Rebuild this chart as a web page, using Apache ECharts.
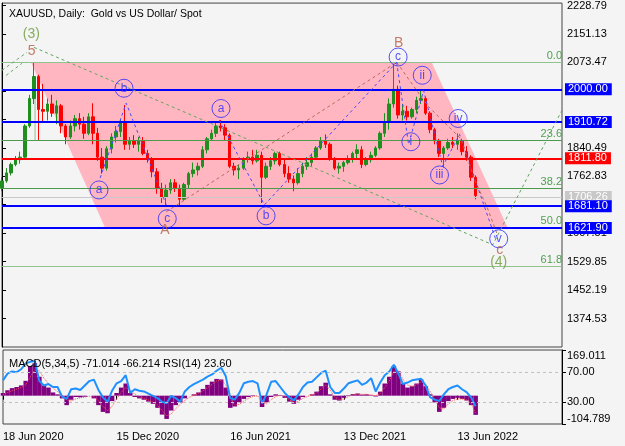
<!DOCTYPE html>
<html><head><meta charset="utf-8">
<script src="https://cdn.jsdelivr.net/npm/echarts@6/dist/echarts.min.js"></script>
<style>html,body{margin:0;padding:0;background:#f4f4f4}#c{width:625px;height:446px}</style>
</head><body><div id="c"></div>
<script>
// ---- data (weekly samples) : [open, high, low, close]
const ohlc = [
[1730,1760,1722,1750],[1750,1785,1745,1772],[1772,1800,1765,1795],[1795,1818,1790,1808],[1808,1830,1797,1815],
[1815,1905,1812,1900],[1900,1985,1895,1975],[1975,2073,1960,2035],[2035,2040,1862,1945],[1945,2015,1910,1940],
[1940,1975,1915,1960],[1960,1985,1925,1935],[1935,1970,1905,1955],[1955,1960,1880,1900],[1900,1905,1850,1870],
[1870,1915,1865,1900],[1900,1930,1885,1920],[1920,1935,1890,1905],[1905,1925,1865,1880],[1880,1935,1875,1925],
[1925,1962,1850,1880],[1880,1895,1805,1815],[1815,1840,1770,1785],[1785,1845,1778,1838],[1838,1880,1825,1870],
[1870,1900,1855,1885],[1885,1920,1870,1912],[1912,1957,1835,1850],[1850,1870,1835,1860],[1860,1875,1840,1850],
[1850,1870,1830,1860],[1860,1870,1820,1825],[1825,1835,1800,1810],[1810,1815,1760,1775],[1775,1785,1715,1730],
[1730,1745,1690,1705],[1705,1740,1680,1725],[1725,1755,1715,1745],[1745,1755,1720,1730],[1730,1740,1682,1700],
[1700,1745,1695,1740],[1740,1775,1730,1770],[1770,1800,1760,1780],[1780,1800,1765,1790],[1790,1845,1785,1835],
[1835,1870,1825,1865],[1865,1890,1860,1880],[1880,1912,1870,1900],[1900,1916,1885,1895],[1895,1905,1860,1875],
[1875,1880,1785,1790],[1790,1800,1765,1780],[1780,1795,1755,1785],[1785,1815,1780,1810],[1810,1830,1800,1815],
[1815,1835,1795,1805],[1805,1835,1800,1820],[1820,1830,1690,1760],[1760,1800,1755,1790],[1790,1815,1780,1805],
[1805,1830,1795,1825],[1825,1830,1790,1795],[1795,1810,1760,1770],[1770,1790,1745,1755],[1755,1765,1722,1745],
[1745,1785,1740,1770],[1770,1800,1760,1790],[1790,1815,1780,1800],[1800,1825,1790,1815],[1815,1845,1810,1840],
[1840,1870,1835,1860],[1860,1877,1840,1850],[1850,1855,1805,1810],[1810,1815,1780,1785],[1785,1800,1770,1790],
[1790,1805,1775,1800],[1800,1820,1795,1810],[1810,1830,1800,1825],[1825,1850,1810,1835],[1835,1845,1785,1795],
[1795,1815,1790,1808],[1808,1830,1800,1820],[1820,1845,1815,1840],[1840,1885,1835,1880],[1880,1935,1870,1910],
[1910,1975,1890,1960],[1960,2070,1950,2000],[2000,2010,1920,1930],[1930,1960,1915,1940],[1940,1955,1915,1925],
[1925,1950,1920,1945],[1945,1980,1935,1970],[1970,1998,1960,1975],[1975,1980,1930,1935],[1935,1940,1880,1890],
[1890,1895,1850,1860],[1860,1865,1815,1825],[1825,1845,1787,1840],[1840,1865,1835,1855],[1855,1870,1840,1850],
[1850,1880,1835,1860],[1860,1865,1820,1830],[1830,1845,1805,1815],[1815,1820,1750,1760],[1760,1765,1700,1710]
];
const macdHist = [10,20,28,32,38,55,110,120,70,38, 30,12,5,-10,-35,-15,-5,-6,-4,0, -10,-35,-60,-65,-20,10,30,45,10,-5,
 -10,-15,-22,-30,-45,-70,-86,-55,-35,-25, -10,0,5,12,25,40,52,62,60,30, -45,-40,-25,-12,-5,2,0,-42,-25,-5,
 5,2,-8,-22,-30,-15,-5,0,5,15, 35,48,5,-15,-18,-8,2,6,8,4, 5,2,-3,15,45,70,110,90,45,30,
 35,45,60,35,5,-25,-60,-45,-20,-12, -8,-12,-18,-35,-71];
const macdSignal = [5,12,18,24,30,40,70,95,92,65, 45,28,15,3,-15,-20,-12,-8,-5,-2, -4,-18,-40,-55,-40,-12,12,30,22,5,
 -4,-10,-16,-24,-35,-55,-75,-68,-48,-32, -18,-6,2,8,18,30,42,54,58,42, -10,-35,-32,-20,-10,-3,0,-25,-30,-15,
 -3,2,-3,-15,-25,-20,-10,-3,3,10, 25,40,20,-5,-15,-12,-3,3,6,5, 5,3,0,8,30,55,90,92,60,40,
 35,40,52,42,15,-12,-45,-50,-30,-18, -12,-12,-16,-28,-66];
const rsi = [59,68,71,70,74,82,84,85,58,52, 54,50,50,37,34,47,48,46,52,58, 60,46,36,30,45,55,58,66,42,47,
 45,44,41,38,35,30,28,38,35,30, 44,50,54,57,60,64,67,72,76,65, 35,33,42,55,57,58,55,28,40,57,
 58,50,42,36,32,40,50,56,57,63, 69,72,50,42,42,48,55,57,59,53, 56,62,44,56,66,71,80,68,54,56,
 59,60,61,52,36,33,31,40,47,50, 52,47,43,36,24];
const slotCount = 124;           // weekly slots incl. empty future space
const dateTicks = ['18 Jun 2020','15 Dec 2020','16 Jun 2021','13 Dec 2021','13 Jun 2022'];
const dateTickStep = 25;
const priceTicks = [2228.79,2151.13,2073.47,1995.81,1918.15,1840.49,1762.83,1685.17,1607.51,1529.85,1452.19,1374.53];
const fibLevels = [['0.0',2073.47],['23.6',1861.3],['38.2',1730.1],['50.0',1624.0],['61.8',1517.9]];
const blueLevels = [2000.00,1910.72,1681.10,1621.90];
const redLevel = 1811.80;
const lastPrice = 1706.26;
const macdTicks = [-104.789,169.011];
const rsiTicks = [30,70];
// overlay geometry in (week slot, price)
const channel = [[6.38,2073.47],[94.39,2073.47],[111.1,1621.9],[22.66,1621.9]];
const greenPath = [[7.04,2114.5],[107.8,1575.9],[123,1943.2]];
const greenTopA = [[0,2052],[5.5,2101]];
const greenTopB = [[0.9,2038],[4.4,2071]];
const fibAnchor = [[7.26,2015],[7.26,1861]];
const bluePaths = [
 [[21.56,1758.2],[27.28,1962.2],[36.08,1684.7]],
 [[47.74,1915.9],[57.65,1684.7],[86.69,2073.7]],
 [[86.69,2073.7],[89.3,1850],[92.6,1997],[96.8,1790],[100.5,1877],[108.6,1585]]
];
const brownPaths = [
 [[36.08,1665.7],[86.69,2073.7]],
 [[86.69,2073.7],[93.5,1955],[100.8,1865],[103.9,1750],[106.5,1680],[108.9,1600]]
];
const circles = [[21.3,1725.5,'a'],[26.8,2003,'b'],[36.3,1647,'c'],[48.1,1947.7,'a'],[58.0,1654.8,'b'],
 [87.0,2088.2,'c'],[92.3,2038.4,'ii'],[89.8,1857,'i'],[96.1,1766.3,'iii'],[100.2,1920.5,'iv'],[109.1,1592.2,'v']];
const greenTexts = [[6.45,2151.7,'(3)'],[109.1,1527.9,'(4)']];
const brownTexts = [[6.5,2104.5,'5'],[87.1,2126.2,'B'],[35.8,1616.7,'A'],[109.3,1561,'c']];

// ---- chart
const F = 'Liberation Sans, Arial, sans-serif';
const cats = Array.from({length: slotCount}, (_, i) => 'w' + i);
const boxValues = blueLevels.concat([redLevel, lastPrice]);
const chart = echarts.init(document.getElementById('c'));
const GREEN = '#4c9a4c', BLUE = '#0000ff';

const levelLines = [];
fibLevels.forEach(([n, v]) => levelLines.push({yAxis: v, name: n,
  lineStyle: {color: (n === '0.0' || n === '61.8') ? '#8fc48f' : GREEN, width: 1, type: 'solid'},
  label: {show: true, position: 'insideEndTop', formatter: n, color: '#4f9f4f', fontSize: 11, fontFamily: F, distance: [0, 1]}}));
levelLines.push({yAxis: lastPrice, lineStyle: {color: '#c8c8c8', width: 1, type: 'solid'},
  label: {show: true, position: 'end', formatter: lastPrice.toFixed(2), backgroundColor: '#c8c8c8', color: '#fff', fontSize: 11, fontFamily: F, padding: [1, 4, 0, 3], distance: 3}});
levelLines.push({yAxis: redLevel, lineStyle: {color: '#ff0000', width: 2, type: 'solid'},
  label: {show: true, position: 'end', formatter: redLevel.toFixed(2), backgroundColor: '#ff0000', color: '#fff', fontSize: 11, fontFamily: F, padding: [1, 4, 0, 3], distance: 3}});
blueLevels.forEach(v => levelLines.push({yAxis: v, lineStyle: {color: BLUE, width: 2, type: 'solid'},
  label: {show: true, position: 'end', formatter: v.toFixed(2), backgroundColor: BLUE, color: '#fff', fontSize: 11, fontFamily: F, padding: [1, 4, 0, 3], distance: 3}}));

function dashed(data, color, z) {
  return {type: 'line', xAxisIndex: 1, yAxisIndex: 0, data, symbol: 'none', silent: true, z: z || 5,
    lineStyle: {color, width: 1, type: [3, 3]}, animation: false};
}
const series = [
  {type: 'custom', xAxisIndex: 1, yAxisIndex: 0, data: [[0, 0]], z: 1, silent: true,
   renderItem: (p, api) => ({type: 'polygon', shape: {points: channel.map(c => api.coord(c))}, style: {fill: '#ffb6c1'}})},
  {type: 'candlestick', xAxisIndex: 0, yAxisIndex: 0, z: 3, barWidth: 3,
   data: ohlc.map(d => [d[0], d[3], d[2], d[1]]),
   itemStyle: {color: '#1f8f1f', color0: '#ff0000', borderColor: '#1f8f1f', borderColor0: '#ff0000', borderWidth: 1},
   markLine: {symbol: ['none', 'none'], silent: true, animation: false, data: levelLines}},
  {type: 'line', xAxisIndex: 1, yAxisIndex: 0, data: fibAnchor, symbol: 'none', z: 2, lineStyle: {color: '#8fc48f', width: 1}},
  dashed(greenPath, '#5fa55f'), dashed(greenTopA, '#6aaa6a'), dashed(greenTopB, '#6aaa6a'),
  ...brownPaths.map(p => dashed(p, '#b86a5a')),
  ...bluePaths.map(p => dashed(p, '#4848ff', 6)),
  {type: 'scatter', xAxisIndex: 1, yAxisIndex: 0, data: circles, symbol: 'circle', symbolSize: 18, z: 8,
   itemStyle: {color: 'rgba(0,0,0,0)', borderColor: '#2a2aff', borderWidth: 1},
   label: {show: true, position: 'inside', formatter: p => p.data[2], color: '#2a2aff', fontSize: 12, fontFamily: F}},
  {type: 'scatter', xAxisIndex: 1, yAxisIndex: 0, data: greenTexts, symbolSize: 1, z: 8, itemStyle: {color: 'rgba(0,0,0,0)'},
   label: {show: true, position: 'inside', formatter: p => p.data[2], color: '#6a9a3a', fontSize: 14, fontFamily: F}},
  {type: 'scatter', xAxisIndex: 1, yAxisIndex: 0, data: brownTexts, symbolSize: 1, z: 8, itemStyle: {color: 'rgba(0,0,0,0)'},
   label: {show: true, position: 'inside', formatter: p => p.data[2], color: '#b85c44', fontSize: 14, fontFamily: F}},
  {type: 'bar', xAxisIndex: 2, yAxisIndex: 1, data: macdHist, barWidth: '100%', itemStyle: {color: '#800080'}, z: 2},
  {type: 'line', xAxisIndex: 2, yAxisIndex: 1, data: macdSignal, symbol: 'none', z: 3, lineStyle: {color: '#ff5050', width: 1, type: 'dotted'}},
  {type: 'line', xAxisIndex: 2, yAxisIndex: 2, data: rsi, symbol: 'none', z: 4, lineStyle: {color: '#1e90ff', width: 2},
   markLine: {symbol: ['none', 'none'], silent: true, animation: false, label: {show: false},
     lineStyle: {color: '#c0c0c0', width: 1, type: [3, 3]}, data: rsiTicks.map(v => ({yAxis: v}))}}
];

const axisText = {color: '#000', fontSize: 11, fontFamily: F};
chart.setOption({
  animation: false,
  backgroundColor: '#f4f4f4',
  title: [
    {text: 'XAUUSD, Daily:  Gold vs US Dollar/ Spot', left: 4, top: 4, textStyle: {fontSize: 10.5, fontWeight: 'normal', color: '#000', fontFamily: F}},
    {text: 'MACD(5,34,5) -71.014 -66.214 RSI(14) 23.60', left: 4, top: 353, textStyle: {fontSize: 11, fontWeight: 'normal', color: '#000', fontFamily: F}}
  ],
  grid: [
    {left: 2, right: 63, top: 2, height: 345, show: true, borderColor: '#444', borderWidth: 1, backgroundColor: 'transparent'},
    {left: 2, right: 63, top: 350, height: 74, show: true, borderColor: '#444', borderWidth: 1, backgroundColor: 'transparent'}
  ],
  xAxis: [
    {type: 'category', gridIndex: 0, data: cats, boundaryGap: false, axisLine: {show: false}, axisTick: {show: false}, axisLabel: {show: false}, splitLine: {show: false}},
    {type: 'value', gridIndex: 0, min: 0, max: slotCount - 1, show: false, splitLine: {show: false}},
    {type: 'category', gridIndex: 1, data: cats, boundaryGap: false, axisLine: {show: false},
     axisTick: {show: true, interval: i => i % dateTickStep === 0, length: 4, lineStyle: {color: '#000'}},
     axisLabel: Object.assign({interval: i => i % dateTickStep === 0, formatter: (v, i) => dateTicks[i / dateTickStep] || '', align: 'left', margin: 7}, axisText),
     splitLine: {show: false}}
  ],
  yAxis: [
    {type: 'value', gridIndex: 0, position: 'right', min: 1296.87, max: 2235.4, splitLine: {show: false},
     axisLine: {show: true, lineStyle: {color: '#000'}},
     axisTick: {show: true, length: 4, customValues: priceTicks, lineStyle: {color: '#000'}},
     axisLabel: Object.assign({customValues: priceTicks, margin: 5,
       formatter: v => boxValues.some(b => Math.abs(b - v) < 10) ? '' : v.toFixed(2)}, axisText)},
    {type: 'value', gridIndex: 1, position: 'right', min: macdTicks[0], max: macdTicks[1], splitLine: {show: false},
     axisLine: {show: true, lineStyle: {color: '#000'}},
     axisTick: {show: true, length: 4, customValues: macdTicks, lineStyle: {color: '#000'}},
     axisLabel: Object.assign({customValues: macdTicks, margin: 5, formatter: v => v.toFixed(3),
       verticalAlignMinLabel: 'bottom', verticalAlignMaxLabel: 'top'}, axisText)},
    {type: 'value', gridIndex: 1, position: 'right', min: 0, max: 100, splitLine: {show: false},
     axisLine: {show: false},
     axisTick: {show: true, length: 4, customValues: rsiTicks, lineStyle: {color: '#000'}},
     axisLabel: Object.assign({customValues: rsiTicks, margin: 5, formatter: v => v.toFixed(2)}, axisText)}
  ],
  series
});
</script></body></html>
